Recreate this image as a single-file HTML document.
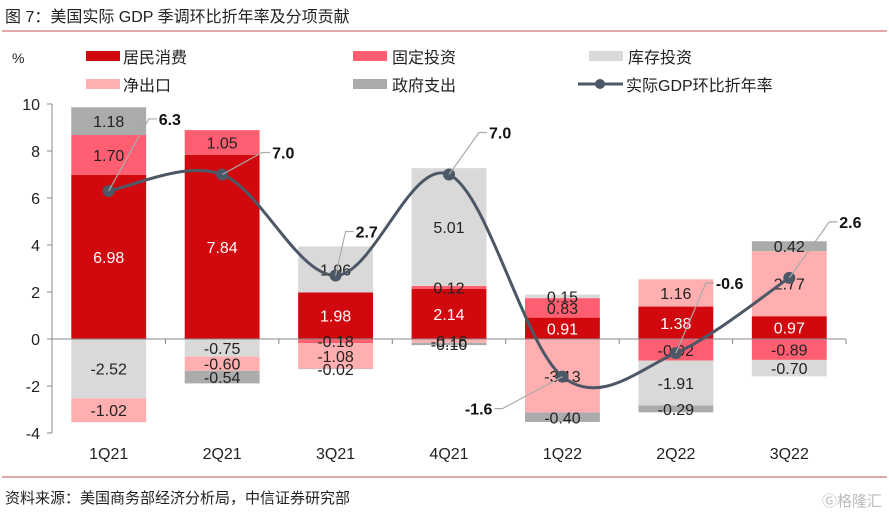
<!DOCTYPE html>
<html><head><meta charset="utf-8">
<style>
body{margin:0;background:#fff;}
svg{display:block;font-family:"Liberation Sans","Noto Sans CJK SC",sans-serif;}
</style></head>
<body>
<svg width="889" height="520" viewBox="0 0 889 520" xmlns="http://www.w3.org/2000/svg">
<text x="5" y="22" font-size="16" fill="#222">图 7：美国实际 GDP 季调环比折年率及分项贡献</text>
<line x1="2" y1="31" x2="887" y2="31" stroke="#d98a8a" stroke-width="1.5"/>
<text x="12" y="63" font-size="14" fill="#222">%</text>
<g font-size="16" fill="#222">
 <g><rect x="86" y="51" width="34" height="10" fill="#d2080f"/><text x="123" y="63">居民消费</text></g>
 <g><rect x="353" y="51" width="34" height="10" fill="#ff5f71"/><text x="392" y="63">固定投资</text></g>
 <g><rect x="589" y="51" width="34" height="10" fill="#d9d9d9"/><text x="628" y="63">库存投资</text></g>
 <g><rect x="86" y="79" width="34" height="10" fill="#ffafaf"/><text x="123" y="91">净出口</text></g>
 <g><rect x="353" y="79" width="34" height="10" fill="#ababab"/><text x="392" y="91">政府支出</text></g>
 <g><line x1="578" y1="84" x2="623" y2="84" stroke="#4d5866" stroke-width="3"/><circle cx="600" cy="84" r="5" fill="#4d5866"/><text x="626" y="91">实际GDP环比折年率</text></g>
</g>
<g id="plot"></g>
<line x1="2" y1="477" x2="887" y2="477" stroke="#d98a8a" stroke-width="1.5"/>
<text x="5" y="503" font-size="15" fill="#222">资料来源：美国商务部经济分析局，中信证券研究部</text>
<text x="822" y="506" font-size="15" fill="#bbb">Ⓖ格隆汇</text>
</svg>
<script>
const categories=["1Q21","2Q21","3Q21","4Q21","1Q22","2Q22","3Q22"];
const consumption=[6.98,7.84,1.98,2.14,0.91,1.38,0.97];
const fixedInv=[1.70,1.05,-0.18,0.12,0.83,-0.92,-0.89];
const inventory=[-2.52,-0.75,1.96,5.01,0.15,-1.91,-0.70];
const netExport=[-1.02,-0.60,-1.08,-0.16,-3.13,1.16,2.77];
const government=[1.18,-0.54,-0.02,-0.10,-0.40,-0.29,0.42];
const gdp=[6.3,7.0,2.7,7.0,-1.6,-0.6,2.6];
const yTicks=[-4,-2,0,2,4,6,8,10];
const gdpLabelOffsets=[[40,-72],[40,-22],[10,-44],[30,-42],[-60,32],[30,-70],[40,-56]];

const NS="http://www.w3.org/2000/svg";
const plot=document.getElementById('plot');
const X0=52,X1=846,Y0=339,PX=23.5;
const bw=(X1-X0)/categories.length;
function y(v){return Y0-v*PX;}
function xc(i){return X0+bw*(i+0.5);}
function mk(tag,attrs,parent){const e=document.createElementNS(NS,tag);for(const k in attrs)e.setAttribute(k,attrs[k]);(parent||plot).appendChild(e);return e;}

// axes
const ax=mk('line',{x1:X0,y1:y(10),x2:X0,y2:y(-4),stroke:'#888','stroke-width':1});


yTicks.forEach(t=>{
 mk('line',{x1:X0-5,y1:y(t),x2:X0,y2:y(t),stroke:'#888'});
 const tx=mk('text',{x:X0-12,y:y(t)+6,'text-anchor':'end','font-size':16,fill:'#222'});
 tx.textContent=t;
 
 
});
categories.forEach((c,i)=>{
 const tx=mk('text',{x:xc(i),y:459,'text-anchor':'middle','font-size':16,fill:'#222'});
 tx.textContent=c;
 
 
});

const series=[[consumption,'#d2080f','consumption'],[fixedInv,'#ff5f71','fixed-investment'],[inventory,'#d9d9d9','inventory'],[netExport,'#ffafaf','net-export'],[government,'#ababab','government']];
const labels=[];
categories.forEach((c,i)=>{
 let pos=0,neg=0;
 series.forEach(([arr,col,nm])=>{
  const v=arr[i];let a,b;
  if(v>=0){a=pos;b=pos+v;pos=b;}else{a=neg;b=neg+v;neg=b;}
  const r=mk('rect',{x:xc(i)-bw*0.33,y:Math.min(y(a),y(b)),width:bw*0.66,height:Math.abs(y(a)-y(b)),fill:col});
  
  
  labels.push([xc(i),(y(a)+y(b))/2+6,v.toFixed(2),nm==='consumption'?'#fff':'#222']);
 });
});
// x axis line over bars
const xa=mk('line',{x1:X0,y1:Y0,x2:X1,y2:Y0,stroke:'#888','stroke-width':1});


for(let i=0;i<=categories.length;i++)mk('line',{x1:X0+bw*i,y1:Y0,x2:X0+bw*i,y2:Y0+5,stroke:'#888'});
labels.forEach(([lx,ly,t,col])=>{
 const tx=mk('text',{x:lx,y:ly,'text-anchor':'middle','font-size':16,fill:col});
 tx.textContent=t;
 
 
});
// GDP line (Catmull-Rom)
const pts=gdp.map((v,i)=>[xc(i),y(v)]);
let d='M'+pts[0][0]+','+pts[0][1];
for(let i=0;i<pts.length-1;i++){
 const p0=pts[Math.max(0,i-1)],p1=pts[i],p2=pts[i+1],p3=pts[Math.min(pts.length-1,i+2)];
 const t=0.5/3*2;
 d+=` C${p1[0]+(p2[0]-p0[0])*t/2},${p1[1]+(p2[1]-p0[1])*t/2} ${p2[0]-(p3[0]-p1[0])*t/2},${p2[1]-(p3[1]-p1[1])*t/2} ${p2[0]},${p2[1]}`;
}
const ln=mk('path',{d:d,fill:'none',stroke:'#4d5866','stroke-width':3});


pts.forEach((p,i)=>{
 const c=mk('circle',{cx:p[0],cy:p[1],r:6,fill:'#4d5866'});
 
 
 const [dx,dy]=gdpLabelOffsets[i];
 const left=dx<0;
 const ex=p[0]+dx, ey=p[1]+dy;
 mk('polyline',{points:`${p[0]},${p[1]} ${ex-(left?-0:0)},${ey} ${ex+(left?-8:8)},${ey}`,fill:'none',stroke:'#aaa','stroke-width':1.2});
 const tx=mk('text',{x:ex+(left?-10:10),y:ey+6,'text-anchor':left?'end':'start','font-size':16,'font-weight':'bold',fill:'#111'});
 tx.textContent=gdp[i].toFixed(1);
 
 
});
</script>
</body></html>
